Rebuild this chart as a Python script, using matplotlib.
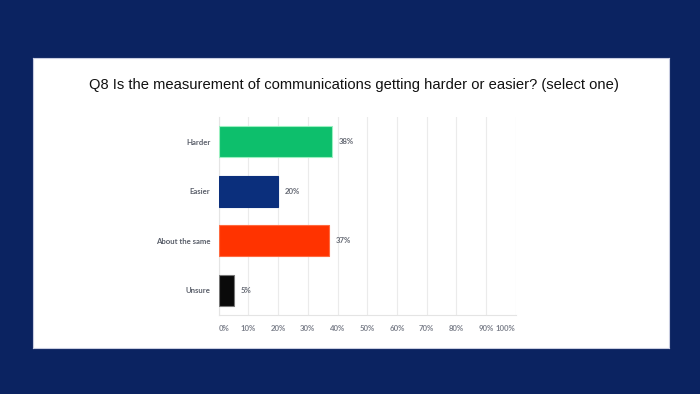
import matplotlib
matplotlib.use("Agg")
import matplotlib.pyplot as plt

categories = ["Harder", "Easier", "About the same", "Unsure"]
values = [38, 20, 37, 5]
value_labels = ["38%", "20%", "37%", "5%"]
bar_colors = ["#0dbf6c", "#0b2f7c", "#ff3300", "#0a0a0a"]
edge_colors = ["#9af0c0", "#0b2f7c", "#ff6a40", "#777777"]
ticks = [0, 10, 20, 30, 40, 50, 60, 70, 80, 90, 100]
tick_labels = ["0%", "10%", "20%", "30%", "40%", "50%", "60%", "70%", "80%", "90%", "100%"]

title = "Q8 Is the measurement of communications getting harder or easier? (select one)"

fig = plt.figure(figsize=(7, 3.94), dpi=100)
fig.patch.set_facecolor("#0b2361")

# white panel behind the chart
panel = fig.add_axes([33 / 700, 1 - 348 / 394, 636 / 700, 290 / 394], zorder=-1)
panel.set_facecolor("white")
panel.set_xticks([])
panel.set_yticks([])
for s in panel.spines.values():
    s.set_color("#c8cce0")
    s.set_linewidth(0.8)

fig.text(354 / 700, 1 - 84.5 / 394, title, ha="center", va="center",
         fontsize=10.6, family="Liberation Sans", color="#111111")

ax = fig.add_axes([218.7 / 700, 79 / 394, 297 / 700, 198 / 394])
ax.set_facecolor("white")

y = list(range(len(categories)))
ax.barh(y, values, height=0.62, color=bar_colors, edgecolor=edge_colors,
        linewidth=0.8, zorder=3)
for yi, v, lab in zip(y, values, value_labels):
    ax.text(v + 2.3, yi, lab, va="center", ha="left", fontsize=5.6,
            family="Lato", fontweight="bold", color="#666a74")

ax.set_ylim(len(categories) - 0.5, -0.5)
ax.set_xlim(0, 100)
ax.set_yticks(y)
ax.set_yticklabels(categories, fontsize=5.6, family="Lato",
                   fontweight="bold", color="#5a5f6a")
ax.set_xticks(ticks)
ax.set_xticklabels(tick_labels, fontsize=5.6, family="Lato",
                   fontweight="bold", color="#7d818c")
xt = ax.get_xticklabels()
xt[0].set_ha("left")
xt[-1].set_ha("right")
ax.tick_params(axis="both", length=0)
ax.tick_params(axis="x", pad=7)
ax.tick_params(axis="y", pad=6)
ax.grid(axis="x", color="#ebebeb", linewidth=0.8, zorder=0)
for s in ["top", "right"]:
    ax.spines[s].set_visible(False)
for s in ["left", "bottom"]:
    ax.spines[s].set_color("#e4e4e4")
    ax.spines[s].set_linewidth(0.8)

fig.savefig("out.png", dpi=100, facecolor=fig.get_facecolor())
